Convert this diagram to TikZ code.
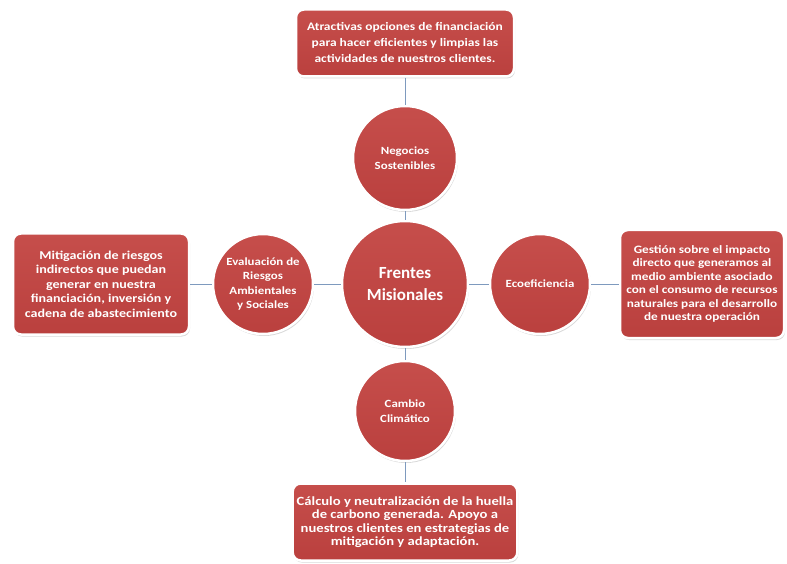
\documentclass[tikz,border=0pt]{standalone}
\usepackage{fontspec}
\setmainfont{Carlito}
\newfontfamily\anchofont[FakeStretch=1.17]{Carlito}
\usetikzlibrary{positioning,shadows}
\definecolor{frente}{RGB}{186,64,62}
\definecolor{frenteclaro}{RGB}{198,78,75}
\definecolor{enlace}{RGB}{126,154,190}
\tikzset{
    eje/.style={
           circle,
           draw=white, line width=2.5pt,
           top color=frenteclaro, bottom color=frente,
           minimum size=100pt,
           inner sep=0pt,
           align=center,
           text=white,
           font=\anchofont\fontsize{11}{14.5}\selectfont\bfseries,
           drop shadow={opacity=0.3, shadow xshift=1pt, shadow yshift=-2pt}
           },
    centro/.style={
           eje,
           minimum size=126pt,
           font=\fontsize{17}{22}\selectfont\bfseries
           },
    nota/.style={
           rectangle, rounded corners=8pt,
           draw=white, line width=2.5pt,
           top color=frenteclaro, bottom color=frente,
           align=center,
           text=white,
           inner sep=4pt,
           font=\anchofont\fontsize{12}{14.5}\selectfont\bfseries,
           drop shadow={opacity=0.3, shadow xshift=1pt, shadow yshift=-2pt}
           },
    enlace/.style={
           draw=enlace, line width=0.8pt
           }
}
\begin{document}
\begin{tikzpicture}[x=1pt, y=1pt, node distance=120pt, on grid]
   \useasboundingbox (0,0) rectangle (787,563);
   \node[centro] (fm) at (405,279) {Frentes\\Misionales};
   \node[eje, minimum size=104pt] (ns) [above=126pt of fm] {Negocios\\Sostenibles};
   \node[eje] (cc) [below=127pt of fm] {Cambio\\Clim\'atico};
   \node[eje] (ev) [left=142pt of fm] {Evaluaci\'on de\\Riesgos\\Ambientales\\y Sociales};
   \node[eje] (ec) [right=135pt of fm] {Ecoeficiencia};
   \node[nota, minimum width=218pt, minimum height=67pt, font=\anchofont\fontsize{11.5}{16}\selectfont\bfseries] (tns) [above=115pt of ns]
        {Atractivas opciones de financiaci\'on\\para hacer eficientes y limpias las\\actividades de nuestros clientes.};
   \node[nota, minimum width=224pt, minimum height=77pt, font=\anchofont\fontsize{12.5}{13.5}\selectfont\bfseries] (tcc) [below=111pt of cc]
        {C\'alculo y neutralizaci\'on de la huella\\de carbono generada. Apoyo a\\nuestros clientes en estrategias de\\mitigaci\'on y adaptaci\'on.};
   \node[nota, minimum width=176pt, minimum height=101pt] (tev) [left=162pt of ev]
        {Mitigaci\'on de riesgos\\indirectos que puedan\\generar en nuestra\\financiaci\'on, inversi\'on y\\cadena de abastecimiento};
   \node[nota, minimum width=164pt, minimum height=108pt, inner sep=1pt, font=\anchofont\fontsize{11.3}{13.5}\selectfont\bfseries] (tec) [right=162pt of ec]
        {Gesti\'on sobre el impacto\\directo que generamos al\\medio ambiente asociado\\con el consumo de recursos\\naturales para el desarrollo\\de nuestra operaci\'on};
   \path[enlace]
    (tns) edge (ns)
    (ns) edge (fm)
    (fm) edge (cc)
    (cc) edge (tcc)
    (tev) edge (ev)
    (ev) edge (fm)
    (fm) edge (ec)
    (ec) edge (tec);
\end{tikzpicture}
\end{document}
